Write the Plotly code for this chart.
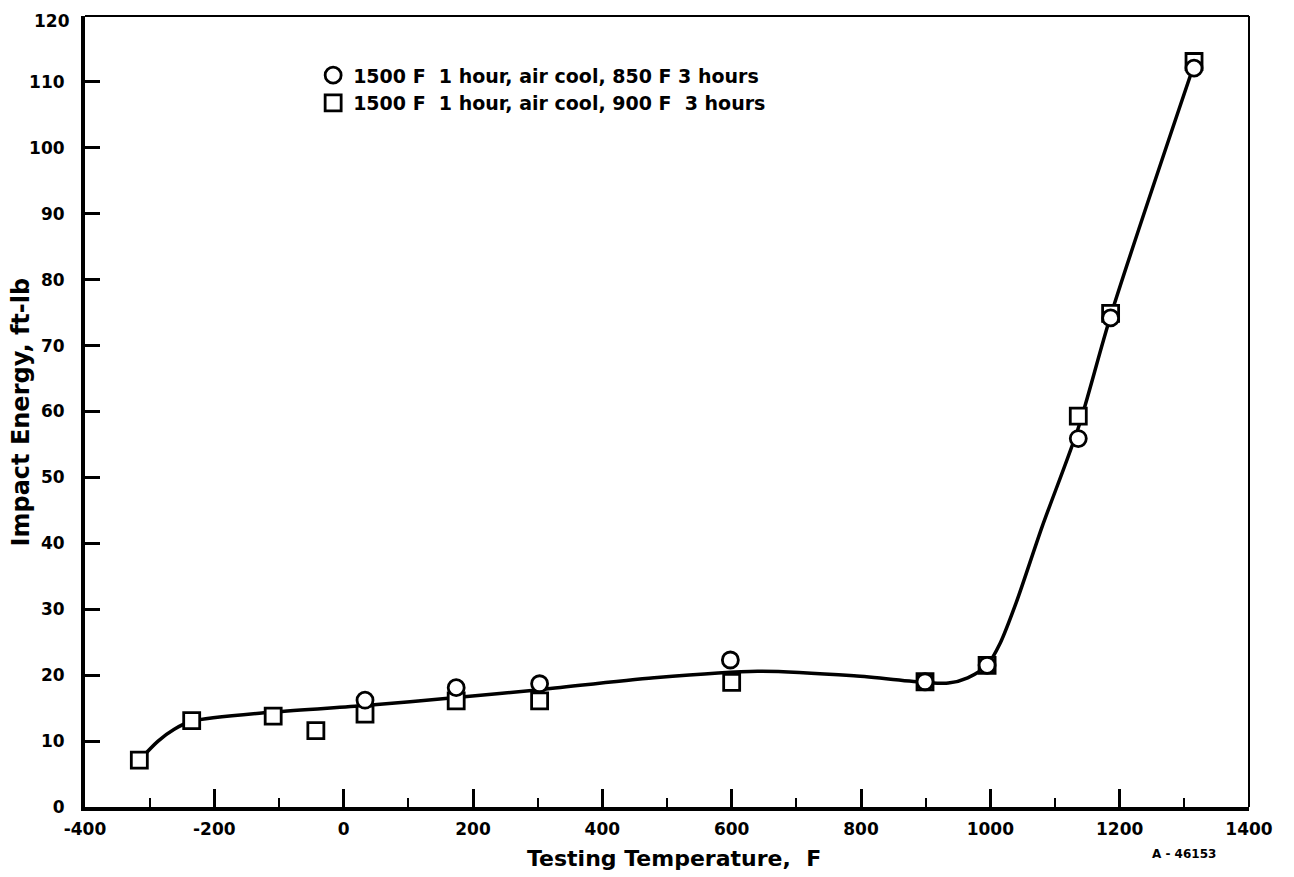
import plotly.graph_objects as go

# Data
sq_x = [-316, -235, -109, -43, 33, 174, 303, 600, 899, 995, 1136, 1186, 1315]
sq_y = [7.1, 13.1, 13.8, 11.6, 14.1, 16.1, 16.1, 18.9, 19.0, 21.5, 59.3, 74.9, 113.1]

ci_x = [33, 174, 303, 598, 899, 995, 1136, 1186, 1315]
ci_y = [16.2, 18.1, 18.7, 22.3, 19.0, 21.5, 55.9, 74.2, 112.1]

curve_x = [-316, -287, -262, -235, -109, 33, 174, 303, 480, 640, 789, 899, 935, 965, 995, 1015, 1040, 1080, 1136, 1186, 1315]
curve_y = [7.1, 10.0, 11.8, 13.0, 14.4, 15.4, 16.6, 17.8, 19.6, 20.6, 19.9, 18.9, 18.8, 19.6, 21.5, 24.8, 31.0, 42.5, 57.5, 74.5, 112.6]

legend_circle = "1500 F  1 hour, air cool, 850 F 3 hours"
legend_square = "1500 F  1 hour, air cool, 900 F  3 hours"

x_ticks = [-400, -200, 0, 200, 400, 600, 800, 1000, 1200, 1400]
x_labels = ["-400", "-200", "0", "200", "400", "600", "800", "1000", "1200", "1400"]
y_ticks = [0, 10, 20, 30, 40, 50, 60, 70, 80, 90, 100, 110, 120]
y_labels = [str(v) for v in y_ticks]

FONT = "'DejaVu Sans', Verdana, sans-serif"

fig = go.Figure()
fig.add_trace(go.Scatter(
    x=curve_x, y=curve_y, mode="lines",
    line=dict(color="black", width=3.5, shape="spline", smoothing=0.8),
    showlegend=False, hoverinfo="skip"))
fig.add_trace(go.Scatter(
    x=sq_x, y=sq_y, mode="markers", name=legend_square,
    marker=dict(symbol="square", size=16, color="white",
                line=dict(color="black", width=2.8))))
fig.add_trace(go.Scatter(
    x=ci_x, y=ci_y, mode="markers", name=legend_circle,
    marker=dict(symbol="circle", size=16, color="white",
                line=dict(color="black", width=2.8))))

fig.update_layout(
    width=1280, height=862,
    margin=dict(l=77, r=39, t=8, b=63),
    paper_bgcolor="white", plot_bgcolor="white",
    font=dict(family=FONT, color="black"),
    legend=dict(x=0.196, y=0.949, xanchor="left", yanchor="top",
                traceorder="reversed", bgcolor="rgba(0,0,0,0)",
                font=dict(size=19, family=FONT, weight="bold"),
                itemwidth=30, tracegroupgap=0),
    xaxis=dict(range=[-400, 1400], tickvals=x_ticks, ticktext=x_labels,
               automargin=False,
               showgrid=False, zeroline=False,
               showline=True, linecolor="black", linewidth=4,
               ticks="inside", ticklen=18, tickwidth=2.5, tickcolor="black",
               ticklabelstandoff=4, ticklabeloverflow="allow",
               minor=dict(dtick=100, ticks="inside", ticklen=9, tickwidth=2, tickcolor="black"),
               tickfont=dict(size=17, family=FONT, weight="bold")),
    yaxis=dict(range=[0, 120], tickvals=y_ticks,
               ticktext=y_labels[:-1] + [""],
               automargin=False,
               showgrid=False, zeroline=False,
               showline=True, linecolor="black", linewidth=4,
               ticks="inside", ticklen=15, tickwidth=2.5, tickcolor="black",
               ticklabelstandoff=13, ticklabeloverflow="allow",
               tickfont=dict(size=17, family=FONT, weight="bold")),
)

# top tick label, nudged down so it stays within the page
fig.add_annotation(text=y_labels[-1], xref="paper", yref="y", x=0, y=y_ticks[-1],
                   xanchor="right", yanchor="middle", xshift=-13, yshift=-5,
                   showarrow=False, font=dict(size=17, family=FONT, weight="bold"))

# thinner top and right frame
fig.add_shape(type="line", xref="paper", yref="paper", x0=0, x1=1, y0=1, y1=1,
              line=dict(color="black", width=2))
fig.add_shape(type="line", xref="paper", yref="paper", x0=1, x1=1, y0=0, y1=1,
              line=dict(color="black", width=2))

# axis titles
fig.add_annotation(text="Testing Temperature,  F", xref="paper", yref="paper",
                   x=0.506, y=-0.0657, xanchor="center", yanchor="middle",
                   showarrow=False, font=dict(size=22, family=FONT, weight="bold"))
fig.add_annotation(text="Impact Energy, ft-lb", xref="paper", yref="paper",
                   x=-0.055, y=0.5, xanchor="center", yanchor="middle", textangle=-90,
                   showarrow=False, font=dict(size=24, family=FONT, weight="bold"))

fig.add_annotation(text="A - 46153", xref="paper", yref="paper", x=0.944, y=-0.0594,
                   xanchor="center", yanchor="middle",
                   showarrow=False, font=dict(size=12, family=FONT, weight="bold"))

fig.write_html("out.html")
